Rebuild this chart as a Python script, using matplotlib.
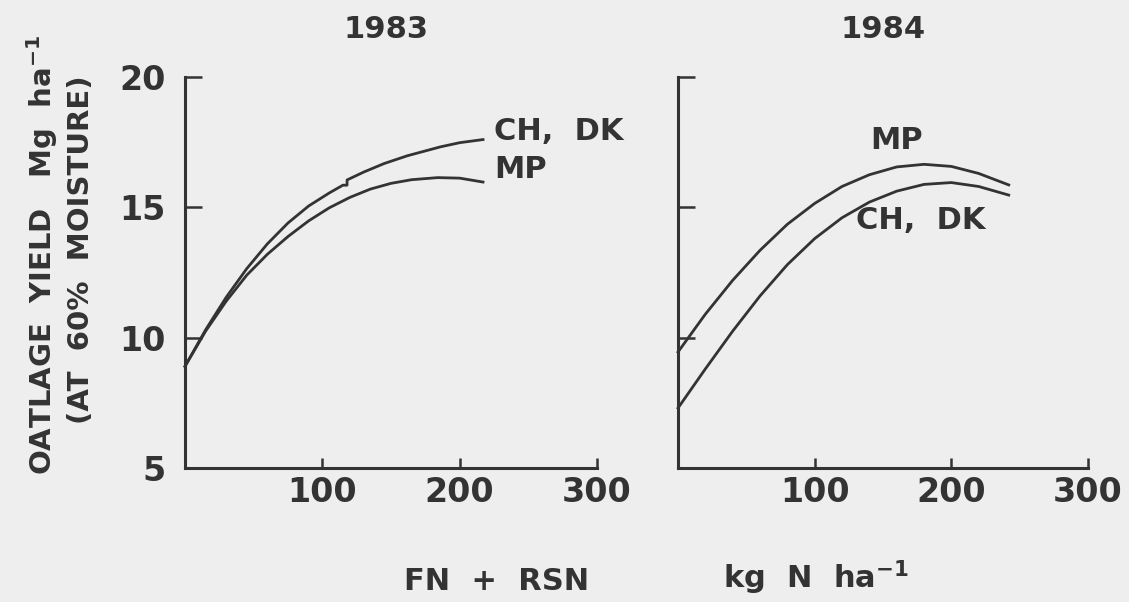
import matplotlib.pyplot as plt

# Datos (rendimiento Mg/ha vs N kg/ha)
# 1983
x83_chdk = [0, 15, 30, 45, 60, 75, 90, 105, 115, 118, 118, 130, 145, 162, 186, 200, 217]
y83_chdk = [8.9, 10.3, 11.55, 12.65, 13.6, 14.4, 15.05, 15.55, 15.85, 15.85, 16.05, 16.35, 16.68, 16.98, 17.32, 17.48, 17.6]
x83_mp = [0, 15, 30, 45, 60, 75, 90, 105, 120, 135, 150, 165, 184, 200, 217]
y83_mp = [8.9, 10.25, 11.4, 12.4, 13.2, 13.88, 14.48, 14.98, 15.38, 15.7, 15.92, 16.06, 16.14, 16.12, 15.97]

# 1984
x84 = [0, 20, 40, 60, 80, 100, 120, 140, 160, 180, 200, 220, 242]
y84_mp = [9.45, 10.9, 12.2, 13.35, 14.35, 15.15, 15.8, 16.25, 16.55, 16.65, 16.57, 16.3, 15.86]
y84_chdk = [7.3, 8.8, 10.25, 11.6, 12.8, 13.8, 14.6, 15.2, 15.62, 15.88, 15.95, 15.8, 15.47]

xticks = [100, 200, 300]
yticks = [5, 10, 15, 20]

bg = '#eeeeee'
ink = '#333333'
plt.rcParams['font.family'] = ['DejaVu Sans']
plt.rcParams['font.weight'] = 'bold'

fig = plt.figure(figsize=(11.29, 6.02), dpi=100, facecolor=bg)
ax1 = fig.add_axes([185 / 1129, 1 - 468 / 602, 412 / 1129, 391 / 602])
ax2 = fig.add_axes([678 / 1129, 1 - 468 / 602, 410 / 1129, 391 / 602])

for ax in (ax1, ax2):
    ax.set_facecolor(bg)
    ax.set_xlim(0, 300)
    ax.set_ylim(5, 20)
    for s in ('top', 'right'):
        ax.spines[s].set_visible(False)
    for s in ('left', 'bottom'):
        ax.spines[s].set_linewidth(2.2)
        ax.spines[s].set_color(ink)
    ax.set_xticks(xticks)
    ax.set_yticks(yticks)
    ax.tick_params(axis='x', direction='in', length=7, width=1.8, color=ink,
                   labelsize=24, labelcolor=ink, pad=6)
    ax.tick_params(axis='y', direction='in', length=12, width=1.8, color=ink,
                   labelsize=24, labelcolor=ink, pad=14)

ax2.set_yticklabels([])

# Curvas
ax1.plot(x83_chdk, y83_chdk, color=ink, lw=2.0, clip_on=False)
ax1.plot(x83_mp, y83_mp, color=ink, lw=2.0, clip_on=False)
ax2.plot(x84, y84_mp, color=ink, lw=2.0, clip_on=False)
ax2.plot(x84, y84_chdk, color=ink, lw=2.0, clip_on=False)

# Etiquetas de curvas
ax1.text(225, 17.9, 'CH,  DK', fontsize=22, color=ink, va='center', ha='left')
ax1.text(225, 16.45, 'MP', fontsize=22, color=ink, va='center', ha='left')
ax2.text(141, 17.55, 'MP', fontsize=22, color=ink, va='center', ha='left')
ax2.text(130, 14.5, 'CH,  DK', fontsize=22, color=ink, va='center', ha='left')

# Titulos
fig.text(386 / 1129, 1 - 29 / 602, '1983', fontsize=22, color=ink, ha='center', va='center')
fig.text(883 / 1129, 1 - 29 / 602, '1984', fontsize=22, color=ink, ha='center', va='center')

# Ejes
fig.text(42 / 1129, 1 - 255 / 602, 'OATLAGE  YIELD   Mg  ha$^{\\mathbf{-1}}$', fontsize=21,
         color=ink, rotation=90, ha='center', va='center')
fig.text(81 / 1129, 1 - 250 / 602, '(AT  60%  MOISTURE)', fontsize=21,
         color=ink, rotation=90, ha='center', va='center')
fig.text(497 / 1129, 1 - 581 / 602, 'FN  +  RSN', fontsize=22, color=ink, ha='center', va='center')
fig.text(816 / 1129, 1 - 578 / 602, 'kg  N  ha$^{\\mathbf{-1}}$', fontsize=22, color=ink,
         ha='center', va='center')

fig.savefig('out.png', dpi=100, facecolor=bg)
